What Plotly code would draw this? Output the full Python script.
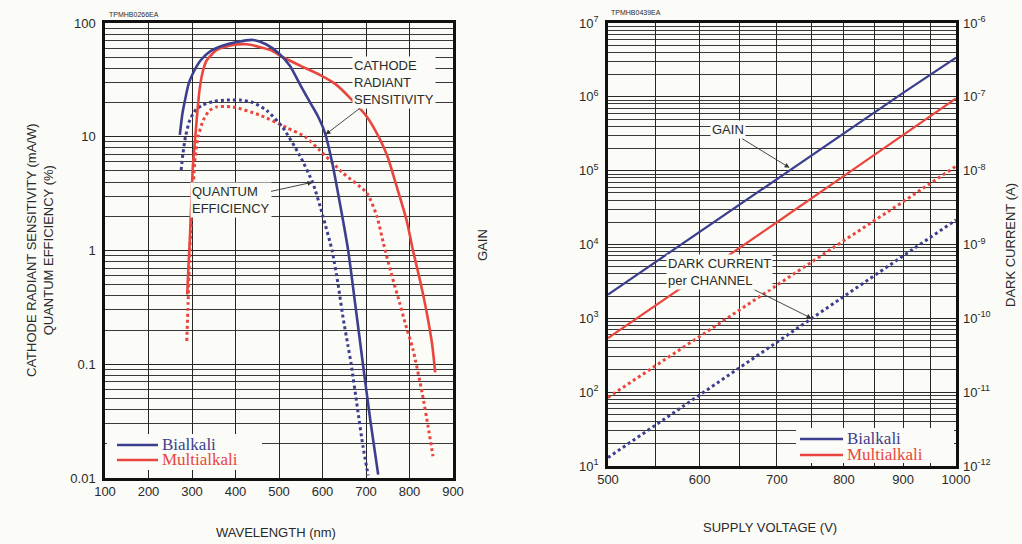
import plotly.graph_objects as go

# ---------------- left panel: spectral response ----------------
wl_bi_crs = [272, 278, 284, 292, 302, 320, 341, 370, 403, 440, 470, 500, 525, 550,
             575, 590, 605, 622, 640, 659, 676, 693, 710, 728]
bi_crs = [10.4, 16, 21, 29, 36, 47, 56, 63, 68, 71, 65, 54, 42, 28,
          19, 15, 11, 6, 2.6, 1.0, 0.32, 0.1, 0.032, 0.0107]

wl_ma_crs = [289, 292, 295, 298, 302, 307, 312, 318, 326, 334, 357, 394, 426, 479, 509,
             550, 594, 630, 663, 702, 732, 750, 771, 794, 808, 824, 840, 852, 859]
ma_crs = [0.41, 0.75, 1.23, 2.4, 5.5, 9.4, 16, 27, 39, 47, 58, 64, 65, 58, 50,
          42, 35, 29, 22, 15, 9.5, 6.6, 3.6, 1.8, 1.0, 0.55, 0.28, 0.15, 0.085]

wl_bi_qe = [275, 279, 285, 295, 310, 325, 350, 380, 410, 440, 472, 509, 548, 578,
            601, 622, 636, 647, 658, 666, 680, 693, 705]
bi_qe = [5.1, 7, 10, 14, 17.5, 19, 20.5, 21, 21, 20, 17, 12, 6.8, 3.9,
         2.0, 1.0, 0.5, 0.26, 0.15, 0.1, 0.042, 0.019, 0.0105]

wl_ma_qe = [288, 291, 294, 298, 302, 307, 314, 326, 340, 357, 394, 456, 518, 560, 594,
            647, 702, 725, 740, 760, 778, 790, 808, 829, 843, 854]
ma_qe = [0.16, 0.35, 0.8, 1.8, 3.2, 6.5, 10, 14, 17, 18.3, 18.3, 15.5, 12, 10, 7.6,
         4.8, 3.2, 2.0, 1.16, 0.59, 0.34, 0.23, 0.135, 0.056, 0.028, 0.0155]

wl_ticks = [100, 200, 300, 400, 500, 600, 700, 800, 900]
sens_ticks = [0.01, 0.1, 1, 10, 100]
sens_labels = ["0.01", "0.1", "1", "10", "100"]

# ---------------- right panel: gain and dark current ----------------
voltage = [500, 600, 700, 800, 900, 1000]
bi_gain = [2.1e3, 1.48e4, 7.7e4, 3.2e5, 1.13e6, 3.4e6]
ma_gain = [5.4e2, 3.8e3, 2.0e4, 8.5e4, 3.0e5, 9.5e5]
bi_dark = [1.3e-12, 9.2e-12, 4.8e-11, 2.0e-10, 7.0e-10, 2.15e-9]
ma_dark = [8.5e-12, 5.7e-11, 2.8e-10, 1.13e-9, 3.8e-9, 1.15e-8]

volt_grid = [500, 550, 600, 650, 700, 750, 800, 850, 900, 950, 1000]
volt_labels = ["500", "", "600", "", "700", "", "800", "", "900", "", "1000"]
gain_ticks = [1e1, 1e2, 1e3, 1e4, 1e5, 1e6, 1e7]
gain_labels = ["10<sup>%d</sup>" % e for e in range(1, 8)]
dark_ticks = [1e-12, 1e-11, 1e-10, 1e-9, 1e-8, 1e-7, 1e-6]
dark_labels = ["10<sup>%d</sup>" % e for e in range(-12, -5)]

legend_names = ["Bialkali", "Multialkali"]

BLUE = "#3c3f8f"
RED = "#e8463e"
BG = "#fbfbf7"
INK = "#2a2a2a"
W, H = 1022, 544


def minor_vals(lo, hi):
    out = []
    e = lo
    while e < hi:
        for m in range(2, 10):
            out.append(m * 10 ** e)
        e += 1
    return out


fig = go.Figure()

def add_line(x, y, color, dash, xa, ya, width=2.6):
    fig.add_trace(go.Scatter(
        x=x, y=y, mode="lines", xaxis=xa, yaxis=ya, showlegend=False,
        line=dict(color=color, width=width if dash == "solid" else 3.0, dash=dash,
                  shape="spline", smoothing=0.6),
        hoverinfo="skip"))

add_line(wl_ma_qe, ma_qe, RED, "dot", "x", "y")
add_line(wl_bi_qe, bi_qe, BLUE, "dot", "x", "y")
add_line(wl_ma_crs, ma_crs, RED, "solid", "x", "y")
add_line(wl_bi_crs, bi_crs, BLUE, "solid", "x", "y")

fig.add_trace(go.Scatter(x=voltage, y=ma_dark, mode="lines", xaxis="x2", yaxis="y3",
                         showlegend=False, line=dict(color=RED, width=3, dash="dot")))
fig.add_trace(go.Scatter(x=voltage, y=bi_dark, mode="lines", xaxis="x2", yaxis="y3",
                         showlegend=False, line=dict(color=BLUE, width=3, dash="dot")))
fig.add_trace(go.Scatter(x=voltage, y=ma_gain, mode="lines", xaxis="x2", yaxis="y2",
                         showlegend=False, line=dict(color=RED, width=2.2)))
fig.add_trace(go.Scatter(x=voltage, y=bi_gain, mode="lines", xaxis="x2", yaxis="y2",
                         showlegend=False, line=dict(color=BLUE, width=2.2)))

tickfont = dict(family="Liberation Sans, Arial, sans-serif", size=13, color=INK)
frame = dict(showline=True, linecolor="#111", linewidth=2.5, mirror=True,
             ticks="", tickfont=tickfont, zeroline=False, automargin=False)
grid = dict(showgrid=True, gridcolor="#262626", gridwidth=1)

L0, L1 = 105 / W, 453 / W
R0, R1 = 608 / W, 956 / W
T = 1 - 23 / H
B_L = 1 - 478 / H
B_R = 1 - 466 / H

fig.update_layout(
    template="none",
    width=W, height=H, margin=dict(l=0, r=0, t=0, b=0),
    paper_bgcolor=BG, plot_bgcolor=BG, showlegend=False,
    xaxis=dict(domain=[L0, L1], range=[100, 900], tickvals=wl_ticks, anchor="y",
               **frame, **grid),
    yaxis=dict(domain=[B_L, T], type="log", range=[-2, 2], tickvals=sens_ticks,
               ticktext=sens_labels, anchor="x", ticklabelstandoff=4, **frame, **grid,
               minor=dict(tickvals=minor_vals(-2, 2), showgrid=True,
                          gridcolor="#3a3a3a", gridwidth=0.8)),
    xaxis2=dict(domain=[R0, R1], type="log", range=[2.69897, 3.0], tickvals=volt_grid,
                ticktext=volt_labels, anchor="y2", **frame, **grid),
    yaxis2=dict(domain=[B_R, T], type="log", range=[1, 7], tickvals=gain_ticks,
                ticktext=gain_labels, anchor="x2", ticklabelstandoff=4, **frame, **grid,
                minor=dict(tickvals=minor_vals(1, 7), showgrid=True,
                           gridcolor="#3a3a3a", gridwidth=0.8)),
    yaxis3=dict(type="log", range=[-12, -6], tickvals=dark_ticks, ticktext=dark_labels,
                overlaying="y2", side="right", anchor="x2", showgrid=False,
                showline=False, ticks="", tickfont=tickfont, zeroline=False,
                automargin=False, ticklabelstandoff=6),
)

label_font = dict(family="Liberation Sans, Arial, sans-serif", size=13, color=INK)
note_font = dict(family="Liberation Sans, Arial, sans-serif", size=7, color=INK)
legend_font = dict(family="Liberation Serif, Times New Roman, serif", size=17)

def px(x, y):
    return x / W, 1 - y / H

def paper_text(x, y, text, font, angle=0, xanchor="center"):
    fx, fy = px(x, y)
    fig.add_annotation(x=fx, y=fy, xref="paper", yref="paper", text=text,
                       showarrow=False, font=font, textangle=angle,
                       xanchor=xanchor, yanchor="middle")

# hand-drawn key boxes, one per panel
def key(x0, y0, x1, y1, line_x0, line_x1, rows):
    fx0, fy0 = px(x0, y0)
    fx1, fy1 = px(x1, y1)
    fig.add_shape(type="rect", xref="paper", yref="paper", x0=fx0, x1=fx1,
                  y0=fy1, y1=fy0, fillcolor=BG, line=dict(width=0), layer="above")
    for name, color, yy in rows:
        a, b = px(line_x0, yy)
        c, _ = px(line_x1, yy)
        fig.add_shape(type="line", xref="paper", yref="paper", x0=a, x1=c, y0=b, y1=b,
                      line=dict(color=color, width=2.5), layer="above")
        paper_text(line_x1 + 2, yy - 1, name, dict(legend_font, color=color),
                   xanchor="left")

key(107, 434, 262, 470, 117, 158,
    [(legend_names[0], BLUE, 445), (legend_names[1], RED, 460)])
key(796, 428, 954, 463, 800, 843,
    [(legend_names[0], BLUE, 439), (legend_names[1], RED, 455)])

paper_text(107, 14, "TPMHB0266EA", note_font, xanchor="left")
paper_text(609, 12, "TPMHB0439EA", note_font, xanchor="left")
paper_text(40, 250, "CATHODE RADIANT SENSITIVITY (mA/W)<br>QUANTUM EFFICIENCY (%)",
           label_font, angle=-90)
paper_text(482, 245, "GAIN", label_font, angle=-90)
paper_text(1010, 245, "DARK CURRENT (A)", label_font, angle=-90)
paper_text(276, 532, "WAVELENGTH (nm)", label_font)
paper_text(770, 527, "SUPPLY VOLTAGE (V)", label_font)

def callout(x, y, xa, ya, text, ax, ay, align="left"):
    fig.add_annotation(x=x, y=y, xref=xa, yref=ya, text=text, showarrow=True,
                       ax=ax, ay=ay, axref="pixel", ayref="pixel",
                       arrowhead=2, arrowsize=1.1, arrowwidth=0.9, arrowcolor="#333",
                       font=label_font, align=align, bgcolor=BG, borderpad=1)

# log axes take exponents for annotation positions
callout(607, 1.02, "x", "y", "CATHODE<br>RADIANT<br>SENSITIVITY", 68, -52)
callout(577, 0.60, "x", "y", "QUANTUM<br>EFFICIENCY", -82, 18)
callout(2.856, 5.04, "x2", "y2", "GAIN", -62, -38, align="center")
callout(2.875, 3.0, "x2", "y2", "DARK CURRENT<br>per CHANNEL", -92, -46)

fig.write_html("out.html")
